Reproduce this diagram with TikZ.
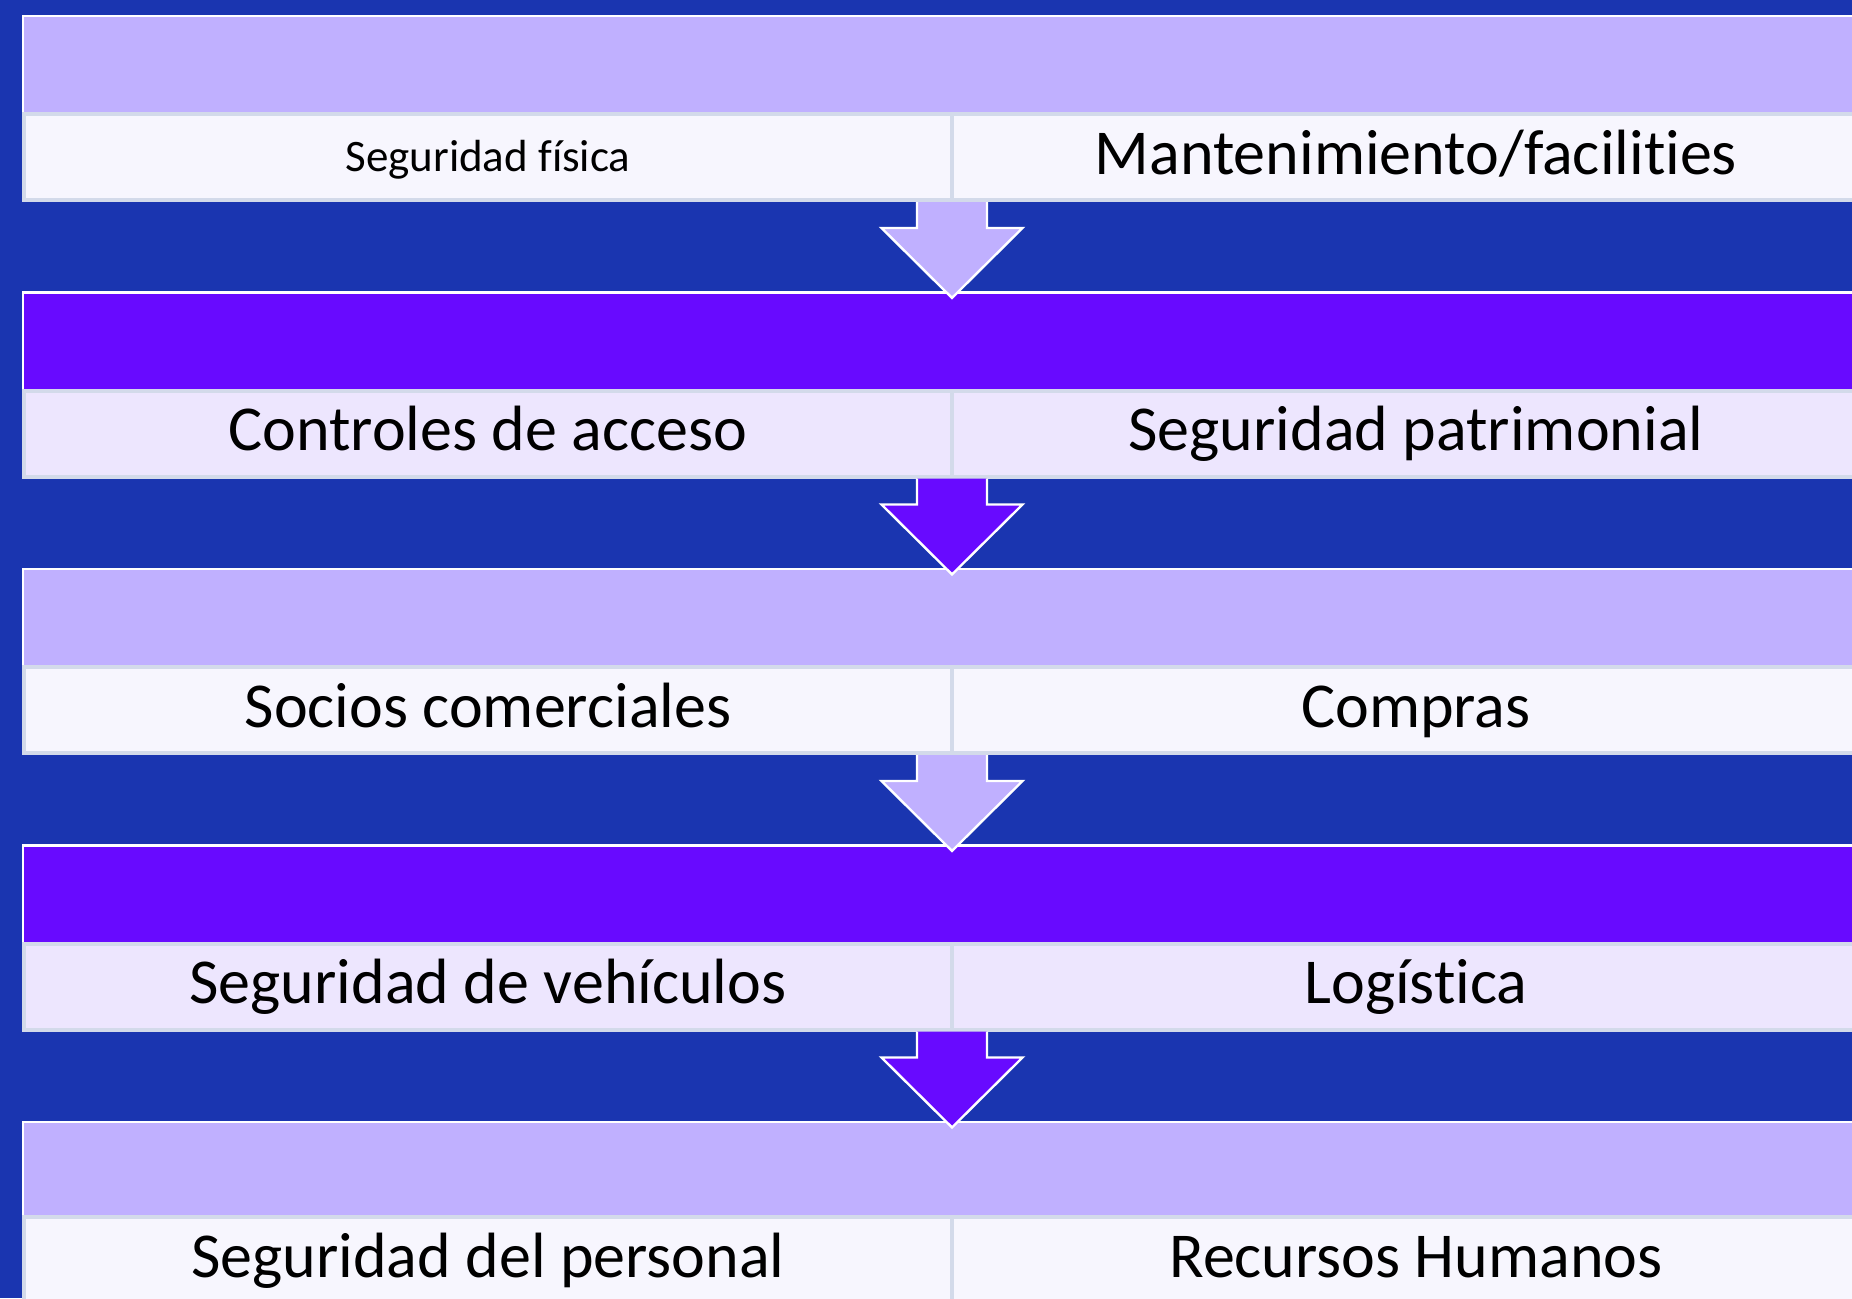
\documentclass[tikz,border=0pt]{standalone}
\usepackage{fontspec}
\setmainfont{Carlito}[Ligatures={NoCommon,NoDiscretionary,NoContextual}]
\definecolor{bg}{HTML}{1A35B0}
\definecolor{lav}{HTML}{C0B0FF}
\definecolor{vio}{HTML}{680AFF}
\definecolor{rowA}{HTML}{F7F6FE}
\definecolor{rowB}{HTML}{EDE6FE}
\definecolor{cellline}{HTML}{D3DAEA}
\begin{document}
\begin{tikzpicture}[x=0.5pt,y=-0.5pt,
  hdr/.style={draw=white, line width=1.2pt, minimum width=960pt, minimum height=49pt,
    anchor=north west, inner sep=0pt, outer sep=0pt},
  cell/.style={draw=cellline, line width=2pt, minimum width=464pt, minimum height=43pt,
    anchor=north west, inner sep=0pt, outer sep=0pt, text=black,
    font=\fontsize{32}{38}\selectfont, text height=20pt, text depth=3pt},
  smalltext/.style={font=\fontsize{22.5}{27}\selectfont, text height=17pt, text depth=3pt},
  arrline/.style={draw=white, line width=1.2pt, line join=miter}
]
\useasboundingbox (0,0) rectangle (1852,1298);
\fill[bg] (0,0) rectangle (1852,1298);

% header bands
\node[hdr, fill=lav] (h1) at (23,16) {};
\node[hdr, fill=vio] (h2) at (23,292.5) {};
\node[hdr, fill=lav] (h3) at (23,569) {};
\node[hdr, fill=vio] (h4) at (23,845.5) {};
\node[hdr, fill=lav] (h5) at (23,1122) {};

% rows
\node[cell, fill=rowA, smalltext] (l1) at (24,114) {Seguridad física};
\node[cell, fill=rowA] (r1) at (l1.north east) {Mantenimiento/facilities};
\node[cell, fill=rowB] (l2) at (24,390.5) {Controles de acceso};
\node[cell, fill=rowB] (r2) at (l2.north east) {Seguridad patrimonial};
\node[cell, fill=rowA] (l3) at (24,667) {Socios comerciales};
\node[cell, fill=rowA] (r3) at (l3.north east) {Compras};
\node[cell, fill=rowB] (l4) at (24,943.5) {Seguridad de vehículos};
\node[cell, fill=rowB] (r4) at (l4.north east) {Logística};
\node[cell, fill=rowA] (l5) at (24,1217) {Seguridad del personal};
\node[cell, fill=rowA] (r5) at (l5.north east) {Recursos Humanos};

% block arrows from each row down to the next band
\foreach \a/\b/\c in {l1/h2/lav, l2/h3/vio, l3/h4/lav, l4/h5/vio}{
  \coordinate (s-\a) at ([yshift=-1pt]\a.south east);
  \coordinate (t-\a) at ([yshift=-2.7pt]\a.south east |- \b.north);
  \fill[\c] ([xshift=-17.5pt]s-\a) -- ([xshift=-17.5pt,yshift=-13pt]s-\a)
    -- ([xshift=-35.25pt,yshift=-13pt]s-\a) -- (t-\a)
    -- ([xshift=35.25pt,yshift=-13pt]s-\a) -- ([xshift=17.5pt,yshift=-13pt]s-\a)
    -- ([xshift=17.5pt]s-\a) -- cycle;
  \draw[arrline] ([xshift=-17.5pt]s-\a) -- ([xshift=-17.5pt,yshift=-13pt]s-\a)
    -- ([xshift=-35.25pt,yshift=-13pt]s-\a) -- (t-\a)
    -- ([xshift=35.25pt,yshift=-13pt]s-\a) -- ([xshift=17.5pt,yshift=-13pt]s-\a)
    -- ([xshift=17.5pt]s-\a);
}
\end{tikzpicture}
\end{document}
